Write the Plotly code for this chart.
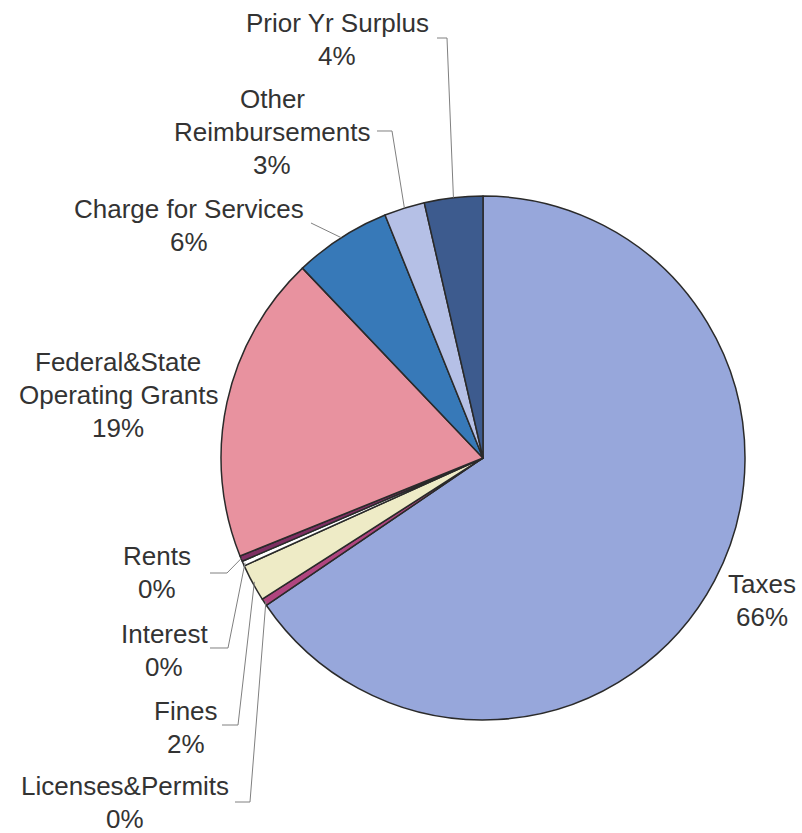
import math
import plotly.graph_objects as go

# ---- data ----
categories = ["Taxes", "Licenses&Permits", "Fines", "Interest", "Rents",
              "Federal&State Operating Grants", "Charge for Services",
              "Other Reimbursements", "Prior Yr Surplus"]
values = [65.5, 0.45, 2.3, 0.3, 0.35, 19.0, 6.0, 2.5, 3.6]
pct_labels = ["66%", "0%", "2%", "0%", "0%", "19%", "6%", "3%", "4%"]
colors = ["#97A7DB", "#B0457F", "#EEEBC6", "#FFFFFF", "#7E2F63",
          "#E8929F", "#3779B8", "#B5C0E6", "#3D5B8E"]

W, H = 802, 833
CX, CY, R = 483, 458, 262  # pie geometry in pixels (layout)

fig = go.Figure(go.Pie(
    labels=categories, values=values, sort=False, direction="clockwise",
    rotation=0, textinfo="none", hoverinfo="label+percent",
    marker=dict(colors=colors, line=dict(color="#2a2a2a", width=1.5)),
    domain=dict(x=[(CX - R) / W, (CX + R) / W], y=[1 - (CY + R) / H, 1 - (CY - R) / H]),
    showlegend=False,
))

def px(x):
    return x / W

def py(y):
    return 1 - y / H

# label layout: (category index, text lines, center x, first line y)
label_layout = [
    (8, ["Prior Yr Surplus"], 337, 23),
    (7, ["Other", "Reimbursements"], 272, 99),
    (6, ["Charge for Services"], 189, 209),
    (5, ["Federal&State", "Operating Grants"], 118, 362),
    (4, ["Rents"], 157, 556),
    (3, ["Interest"], 164, 634),
    (2, ["Fines"], 186, 711),
    (1, ["Licenses&Permits"], 125, 786),
    (0, ["Taxes"], 762, 584),
]
STEP = 33
anns = []
for idx, lines, x, y0 in label_layout:
    for k, t in enumerate(lines + [pct_labels[idx]]):
        anns.append(dict(x=px(x), y=py(y0 + k * STEP), xref="paper", yref="paper",
                         text=t, showarrow=False, xanchor="center", yanchor="middle",
                         font=dict(family="Liberation Sans, Arial", size=26, color="#333333")))

# leader lines: label-side elbow points (layout), pie-side point from data
total = sum(values)
cum = 0.0
mid_angle = []
for v in values:
    mid_angle.append((cum + v / 2) / total * 2 * math.pi)
    cum += v

def edge_point(i, inset=0):
    a = mid_angle[i]
    return CX + (R - inset) * math.sin(a), CY - (R - inset) * math.cos(a)

leaders = [
    (8, [(437, 38), (447, 38)]),
    (7, [(377, 131), (392, 131)]),
    (6, [(311, 223)]),
    (4, [(210, 573), (227, 573)]),
    (3, [(210, 648), (228, 648)]),
    (2, [(222, 725), (238, 725)]),
    (1, [(235, 802), (250, 802)]),
]
shapes = []
for idx, pts in leaders:
    ex, ey = edge_point(idx, inset=2 if idx in (1, 2, 3) else 0)
    allp = pts + [(ex, ey)]
    path = "M " + " L ".join(f"{px(a):.5f},{py(b):.5f}" for a, b in allp)
    shapes.append(dict(type="path", path=path, xref="paper", yref="paper",
                       line=dict(color="#808080", width=1)))

fig.update_layout(width=W, height=H, margin=dict(l=0, r=0, t=0, b=0),
                  paper_bgcolor="white", plot_bgcolor="white",
                  annotations=anns, shapes=shapes)
fig.write_html("out.html", config={"displayModeBar": False},
               post_script="document.body.style.margin='0';document.body.style.overflow='hidden';")
